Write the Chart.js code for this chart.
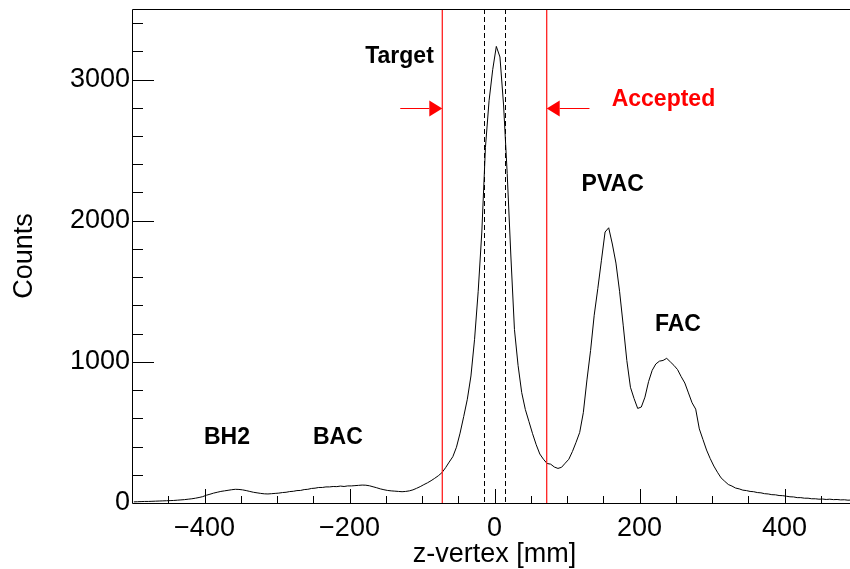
<!DOCTYPE html>
<html>
<head>
<meta charset="utf-8">
<title>z-vertex</title>
<script src="https://cdn.jsdelivr.net/npm/chart.js@4.4.1/dist/chart.umd.min.js"></script>
<style>
  html, body { margin: 0; padding: 0; background: #fff; overflow: hidden; }
  #zChart { display: block; }
</style>
</head>
<body>
<canvas id="zChart" width="862" height="569"></canvas>
<script>
// z-vertex histogram, 5 mm bins from -500 to +500 mm
const binLow = -500;
const binWidth = 5;

// -500 .. -100 mm (BH2, BAC region)
const countsUpstream = [
  8, 9, 10, 11, 11, 12, 13, 14, 15, 16, 17, 18, 20, 22, 24, 27, 30, 34, 39, 45,
  55, 62, 70, 76, 82, 86, 90, 94, 97, 96, 93, 88, 82, 76, 72, 68, 65, 64, 66, 68,
  70, 74, 76, 81, 83, 88, 89, 95, 97, 103, 105, 110, 110, 114, 114, 117, 116, 120, 117, 121,
  121, 123, 125, 127, 126, 122, 115, 108, 100, 94, 89, 86, 84, 82, 80, 82, 86, 93, 104, 116
];
// -100 .. +100 mm (target peak)
const countsTarget = [
  130, 143, 158, 175, 193, 215, 250, 290, 328, 395, 495, 612, 735, 900, 1160, 1500, 1920, 2520, 2850, 3070,
  3235, 3160, 2820, 2335, 1757, 1230, 975, 783, 663, 577, 491, 413, 347, 310, 280, 275, 255, 245, 253, 282
];
// +100 .. +500 mm (PVAC, FAC region)
const countsDownstream = [
  310, 365, 430, 500, 640, 872, 1080, 1330, 1520, 1720, 1920, 1950, 1835, 1700, 1500, 1260, 1010, 820, 740, 670,
  680, 750, 860, 940, 985, 1005, 1010, 1025, 1000, 975, 945, 895, 850, 780, 710, 665, 525, 450, 375, 315,
  262, 218, 178, 154, 131, 120, 106, 100, 91, 88, 82, 80, 74, 72, 66, 64, 59, 58, 53, 52,
  48, 44, 43, 38, 38, 34, 34, 30, 30, 27, 28, 25, 27, 24, 25, 22, 23, 20, 21, 19
];

const xTickValues = [-400, -200, 0, 200, 400];
const yTickValues = [0, 1000, 2000, 3000];
const cutLines = [-72, 72];      // accepted region (red)
const targetLines = [-15, 15];   // target extent (dashed)

const counts = countsUpstream.concat(countsTarget, countsDownstream);
const points = counts.map((c, i) => ({ x: binLow + binWidth * (i + 0.5), y: c }));

const FONT = '"Liberation Sans", Arial, Helvetica, sans-serif';
Chart.defaults.font.family = FONT;
const axisFont = { family: FONT, size: 27, lineHeight: 1 };
const fmt = v => String(v).replace('-', '\u2212');

// ROOT style frame with ticks inside
const rootFrame = {
  id: 'rootFrame',
  afterDraw(chart) {
    const { ctx, chartArea: a, scales: { x, y } } = chart;
    ctx.save();
    ctx.strokeStyle = '#000';
    ctx.lineWidth = 1;
    ctx.beginPath();
    ctx.moveTo(a.left + 0.5, a.bottom + 0.5);
    ctx.lineTo(a.left + 0.5, a.top + 0.5);
    ctx.lineTo(a.right + 0.5, a.top + 0.5);
    ctx.lineTo(a.right + 0.5, a.bottom + 0.5);
    ctx.closePath();
    ctx.stroke();
    ctx.beginPath();
    for (let v = -450; v < 500; v += 50) {
      const px = Math.round(x.getPixelForValue(v)) + 0.5;
      const len = v % 200 === 0 ? 14 : 7;
      ctx.moveTo(px, a.bottom);
      ctx.lineTo(px, a.bottom - len);
    }
    for (let v = 200; v < 3500; v += 200) {
      const py = Math.round(y.getPixelForValue(v)) + 0.5;
      const len = v % 1000 === 0 ? 22 : 11;
      ctx.moveTo(a.left, py);
      ctx.lineTo(a.left + len, py);
    }
    ctx.stroke();
    ctx.restore();
  }
};

const overlay = {
  id: 'overlay',
  afterDatasetsDraw(chart, args, opts) {
    const { ctx, chartArea: a, scales: { x, y } } = chart;
    ctx.save();
    // dashed target lines
    ctx.strokeStyle = '#000';
    ctx.lineWidth = 1;
    ctx.setLineDash([5, 3]);
    targetLines.forEach(v => {
      const px = Math.round(x.getPixelForValue(v)) + 0.5;
      ctx.beginPath();
      ctx.moveTo(px, a.top);
      ctx.lineTo(px, a.bottom);
      ctx.stroke();
    });
    ctx.setLineDash([]);
    // red cut lines
    ctx.strokeStyle = '#ff2020';
    ctx.lineWidth = 1.3;
    cutLines.forEach(v => {
      const px = x.getPixelForValue(v);
      ctx.beginPath();
      ctx.moveTo(px, a.top);
      ctx.lineTo(px, a.bottom);
      ctx.stroke();
    });
    // arrows
    ctx.strokeStyle = '#ff0000';
    ctx.fillStyle = '#ff0000';
    ctx.lineWidth = 1;
    opts.arrows.forEach(ar => {
      const tx = x.getPixelForValue(ar.from);
      const hx = x.getPixelForValue(ar.to);
      const py = Math.round(y.getPixelForValue(ar.y)) + 0.5;
      const dir = Math.sign(hx - tx);
      ctx.beginPath();
      ctx.moveTo(tx, py);
      ctx.lineTo(hx - dir * 13, py);
      ctx.stroke();
      ctx.beginPath();
      ctx.moveTo(hx, py);
      ctx.lineTo(hx - dir * 13, py - 8);
      ctx.lineTo(hx - dir * 13, py + 8);
      ctx.closePath();
      ctx.fill();
    });
    // labels
    ctx.font = 'bold 23px ' + FONT;
    ctx.textAlign = 'center';
    ctx.textBaseline = 'middle';
    opts.texts.forEach(t => {
      ctx.fillStyle = t.color || '#000';
      ctx.fillText(t.text, x.getPixelForValue(t.x), y.getPixelForValue(t.y));
    });
    ctx.restore();
  }
};

new Chart(document.getElementById('zChart'), {
  type: 'line',
  data: {
    datasets: [{
      data: points,
      borderColor: '#000',
      borderWidth: 1,
      pointRadius: 0,
      fill: false,
      tension: 0
    }]
  },
  options: {
    responsive: false,
    animation: false,
    layout: { padding: { top: 9, right: 5, left: 0, bottom: 0 } },
    plugins: {
      legend: { display: false },
      tooltip: { enabled: false },
      overlay: {
        arrows: [
          { from: -130, to: -72, y: 2800 },
          { from: 131, to: 72, y: 2800 }
        ],
        texts: [
          { text: 'Target', x: -131, y: 3160 },
          { text: 'Accepted', x: 233, y: 2860, color: '#ff0000' },
          { text: 'PVAC', x: 163, y: 2253 },
          { text: 'FAC', x: 253, y: 1261 },
          { text: 'BH2', x: -369, y: 460 },
          { text: 'BAC', x: -216, y: 460 }
        ]
      }
    },
    scales: {
      x: {
        type: 'linear',
        min: -500,
        max: 500,
        grid: { display: false, drawTicks: false },
        border: { display: false },
        ticks: {
          padding: 12, color: '#000', font: axisFont,
          maxRotation: 0, autoSkip: false, callback: fmt
        },
        afterBuildTicks: s => { s.ticks = xTickValues.map(v => ({ value: v })); },
        title: {
          display: true, text: 'z-vertex [mm]', color: '#000',
          font: axisFont, padding: { top: 0, bottom: 0.5 }
        },
        afterFit: s => { s.height = 66; s.paddingLeft = 0; s.paddingRight = 0; }
      },
      y: {
        min: 0,
        max: 3500,
        grid: { display: false, drawTicks: false },
        border: { display: false },
        ticks: { padding: 2, color: '#000', font: axisFont, callback: fmt },
        afterBuildTicks: s => { s.ticks = yTickValues.map(v => ({ value: v })); },
        title: {
          display: true, text: 'Counts', color: '#000',
          font: axisFont, padding: { top: 11.5, bottom: 0 }
        },
        afterFit: s => { s.width = 132; s.paddingTop = 0; s.paddingBottom = 0; }
      }
    }
  },
  plugins: [rootFrame, overlay]
});
</script>
</body>
</html>
